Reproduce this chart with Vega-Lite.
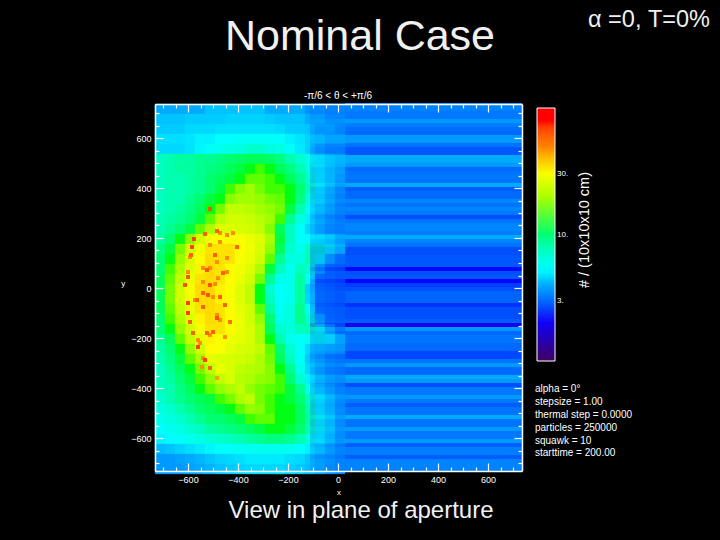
{"$schema":"https://vega.github.io/schema/vega-lite/v6.json","width":367,"height":367,"autosize":"none","padding":{"left":155,"top":104,"right":198,"bottom":69},"background":"black",
"config":{"view":{"stroke":null},"axis":{"grid":false}},
"datasets":{
"stripes":[{"y":732,"v":3.5},{"y":716,"v":3.5},{"y":700,"v":3.3},{"y":684,"v":3.3},{"y":668,"v":3.8},{"y":652,"v":3.4},{"y":636,"v":3.1},{"y":620,"v":3},{"y":604,"v":3.8},{"y":588,"v":3.8},{"y":572,"v":3.2},{"y":556,"v":2.7},{"y":540,"v":2.7},{"y":524,"v":4},{"y":508,"v":4},{"y":492,"v":3.8},{"y":476,"v":3},{"y":460,"v":3.2},{"y":444,"v":3.3},{"y":428,"v":3.2},{"y":412,"v":4},{"y":396,"v":2.8},{"y":380,"v":3},{"y":364,"v":3},{"y":348,"v":3.6},{"y":332,"v":3.2},{"y":316,"v":3.6},{"y":300,"v":3.3},{"y":284,"v":2.6},{"y":268,"v":3.2},{"y":252,"v":3.6},{"y":236,"v":3.6},{"y":220,"v":3.4},{"y":204,"v":4},{"y":188,"v":3.5},{"y":172,"v":3.2},{"y":156,"v":2.6},{"y":140,"v":2.6},{"y":124,"v":2.7},{"y":108,"v":2.7},{"y":92,"v":2.7},{"y":76,"v":2.1},{"y":60,"v":2.6},{"y":44,"v":2.7},{"y":28,"v":2.1},{"y":12,"v":2.4},{"y":-4,"v":2.6},{"y":-20,"v":2.9},{"y":-36,"v":2.9},{"y":-52,"v":2.9},{"y":-68,"v":2.3},{"y":-84,"v":2.6},{"y":-100,"v":2.6},{"y":-116,"v":2.6},{"y":-132,"v":2.8},{"y":-148,"v":1.9},{"y":-164,"v":3.8},{"y":-180,"v":3},{"y":-196,"v":3.2},{"y":-212,"v":3.2},{"y":-228,"v":3},{"y":-244,"v":3},{"y":-260,"v":2.5},{"y":-276,"v":2.5},{"y":-292,"v":3.2},{"y":-308,"v":3.8},{"y":-324,"v":3},{"y":-340,"v":3},{"y":-356,"v":4},{"y":-372,"v":3.8},{"y":-388,"v":2.6},{"y":-404,"v":3.3},{"y":-420,"v":3.3},{"y":-436,"v":3.8},{"y":-452,"v":3.3},{"y":-468,"v":2.8},{"y":-484,"v":3.2},{"y":-500,"v":3.2},{"y":-516,"v":4},{"y":-532,"v":3.2},{"y":-548,"v":3.2},{"y":-564,"v":3.8},{"y":-580,"v":3.3},{"y":-596,"v":3.3},{"y":-612,"v":3.8},{"y":-628,"v":2.8},{"y":-644,"v":3.4},{"y":-660,"v":3.4},{"y":-676,"v":2.8},{"y":-692,"v":3.5},{"y":-708,"v":3.5},{"y":-724,"v":3.5}],
"hot":[{"x":-472,"y":220,"v":48},{"x":-444,"y":212,"v":48},{"x":-420,"y":220,"v":48},{"x":-512,"y":172,"v":48},{"x":-472,"y":184,"v":48},{"x":-592,"y":124,"v":48},{"x":-484,"y":104,"v":48},{"x":-444,"y":120,"v":48},{"x":-540,"y":80,"v":48},{"x":-512,"y":80,"v":48},{"x":-444,"y":64,"v":48},{"x":-600,"y":64,"v":48},{"x":-480,"y":40,"v":48},{"x":-540,"y":24,"v":48},{"x":-492,"y":16,"v":48},{"x":-500,"y":-36,"v":48},{"x":-572,"y":-48,"v":48},{"x":-484,"y":-108,"v":48},{"x":-472,"y":-128,"v":48},{"x":-560,"y":-208,"v":48},{"x":-552,"y":-220,"v":48},{"x":-540,"y":-280,"v":48},{"x":-512,"y":-188,"v":48},{"x":-452,"y":-196,"v":48},{"x":-544,"y":-316,"v":48},{"x":-512,"y":316,"v":65},{"x":-576,"y":196,"v":70},{"x":-584,"y":164,"v":70},{"x":-404,"y":164,"v":60},{"x":-532,"y":216,"v":60},{"x":-484,"y":228,"v":60},{"x":-588,"y":132,"v":60},{"x":-492,"y":132,"v":60},{"x":-524,"y":72,"v":65},{"x":-600,"y":44,"v":65},{"x":-460,"y":60,"v":60},{"x":-612,"y":12,"v":65},{"x":-512,"y":12,"v":65},{"x":-540,"y":-20,"v":60},{"x":-600,"y":-60,"v":70},{"x":-600,"y":-100,"v":70},{"x":-520,"y":-28,"v":65},{"x":-472,"y":-36,"v":60},{"x":-564,"y":-48,"v":60},{"x":-484,"y":-120,"v":65},{"x":-524,"y":-180,"v":60},{"x":-580,"y":-180,"v":60},{"x":-560,"y":-236,"v":70},{"x":-532,"y":-288,"v":70},{"x":-512,"y":-320,"v":60},{"x":-484,"y":-360,"v":45},{"x":-452,"y":-68,"v":60},{"x":-540,"y":-76,"v":60},{"x":-592,"y":-136,"v":60},{"x":-432,"y":-136,"v":55},{"x":-500,"y":-176,"v":60}],
"info":[{"label":"alpha = 0°","y":-404},{"label":"stepsize = 1.00","y":-456},{"label":"thermal step = 0.0000","y":-508},{"label":"particles = 250000","y":-560},{"label":"squawk = 10","y":-612},{"label":"starttime = 200.00","y":-660}],
"grid":[
{"x":-712,"y":716,"v":4},{"x":-672,"y":716,"v":4},{"x":-632,"y":716,"v":4},{"x":-592,"y":716,"v":4},{"x":-552,"y":716,"v":4},{"x":-512,"y":716,"v":4.3},{"x":-472,"y":716,"v":4.3},{"x":-432,"y":716,"v":4.3},{"x":-392,"y":716,"v":4.3},{"x":-352,"y":716,"v":4.3},{"x":-312,"y":716,"v":4.3},{"x":-272,"y":716,"v":4},{"x":-232,"y":716,"v":4},{"x":-192,"y":716,"v":4},{"x":-152,"y":716,"v":4},{"x":-112,"y":716,"v":3.7},{"x":-72,"y":716,"v":3.7},{"x":-32,"y":716,"v":3.5},{"x":8,"y":716,"v":3.5},
{"x":-712,"y":676,"v":4.3},{"x":-672,"y":676,"v":4.3},{"x":-632,"y":676,"v":4.3},{"x":-592,"y":676,"v":4.4},{"x":-552,"y":676,"v":4.4},{"x":-512,"y":676,"v":4.4},{"x":-472,"y":676,"v":4.4},{"x":-432,"y":676,"v":4.5},{"x":-392,"y":676,"v":4.5},{"x":-352,"y":676,"v":4.5},{"x":-312,"y":676,"v":4.5},{"x":-272,"y":676,"v":4.4},{"x":-232,"y":676,"v":4.3},{"x":-192,"y":676,"v":4.3},{"x":-152,"y":676,"v":4.3},{"x":-112,"y":676,"v":4},{"x":-72,"y":676,"v":4},{"x":-32,"y":676,"v":3.7},{"x":8,"y":676,"v":3.7},
{"x":-712,"y":636,"v":4.4},{"x":-672,"y":636,"v":4.4},{"x":-632,"y":636,"v":4.4},{"x":-592,"y":636,"v":4.6},{"x":-552,"y":636,"v":4.6},{"x":-512,"y":636,"v":4.6},{"x":-472,"y":636,"v":4.7},{"x":-432,"y":636,"v":4.7},{"x":-392,"y":636,"v":4.7},{"x":-352,"y":636,"v":4.7},{"x":-312,"y":636,"v":4.7},{"x":-272,"y":636,"v":4.7},{"x":-232,"y":636,"v":4.6},{"x":-192,"y":636,"v":4.4},{"x":-152,"y":636,"v":4.4},{"x":-112,"y":636,"v":4.3},{"x":-72,"y":636,"v":4},{"x":-32,"y":636,"v":4},{"x":8,"y":636,"v":3.7},
{"x":-712,"y":596,"v":4.7},{"x":-672,"y":596,"v":4.7},{"x":-632,"y":596,"v":4.7},{"x":-592,"y":596,"v":4.8},{"x":-552,"y":596,"v":5},{"x":-512,"y":596,"v":5},{"x":-472,"y":596,"v":5.3},{"x":-432,"y":596,"v":5.4},{"x":-392,"y":596,"v":5.6},{"x":-352,"y":596,"v":5.6},{"x":-312,"y":596,"v":5.6},{"x":-272,"y":596,"v":5.6},{"x":-232,"y":596,"v":5.4},{"x":-192,"y":596,"v":5},{"x":-152,"y":596,"v":4.8},{"x":-112,"y":596,"v":4.5},{"x":-72,"y":596,"v":4.3},{"x":-32,"y":596,"v":4},{"x":8,"y":596,"v":4},
{"x":-712,"y":556,"v":4.6},{"x":-672,"y":556,"v":4.6},{"x":-632,"y":556,"v":4.6},{"x":-592,"y":556,"v":4.8},{"x":-552,"y":556,"v":5.1},{"x":-512,"y":556,"v":5.5},{"x":-472,"y":556,"v":6},{"x":-432,"y":556,"v":6.3},{"x":-392,"y":556,"v":6.5},{"x":-352,"y":556,"v":7},{"x":-312,"y":556,"v":7},{"x":-272,"y":556,"v":6.5},{"x":-232,"y":556,"v":6.3},{"x":-192,"y":556,"v":5.5},{"x":-152,"y":556,"v":4.9},{"x":-112,"y":556,"v":4.5},{"x":-72,"y":556,"v":4},{"x":-32,"y":556,"v":3.7},{"x":8,"y":556,"v":3.7},
{"x":-712,"y":516,"v":7.5},{"x":-672,"y":516,"v":8},{"x":-632,"y":516,"v":8.5},{"x":-592,"y":516,"v":8.5},{"x":-552,"y":516,"v":9},{"x":-512,"y":516,"v":9},{"x":-472,"y":516,"v":9.5},{"x":-432,"y":516,"v":10},{"x":-392,"y":516,"v":10.5},{"x":-352,"y":516,"v":11},{"x":-312,"y":516,"v":11},{"x":-272,"y":516,"v":10.5},{"x":-232,"y":516,"v":9.5},{"x":-192,"y":516,"v":8},{"x":-152,"y":516,"v":7},{"x":-112,"y":516,"v":6},{"x":-72,"y":516,"v":5},{"x":-32,"y":516,"v":4.5},{"x":8,"y":516,"v":4.2},
{"x":-712,"y":476,"v":7.5},{"x":-672,"y":476,"v":8},{"x":-632,"y":476,"v":8.5},{"x":-592,"y":476,"v":8.5},{"x":-552,"y":476,"v":9},{"x":-512,"y":476,"v":9.5},{"x":-472,"y":476,"v":10},{"x":-432,"y":476,"v":11},{"x":-392,"y":476,"v":12},{"x":-352,"y":476,"v":13},{"x":-312,"y":476,"v":14},{"x":-272,"y":476,"v":13},{"x":-232,"y":476,"v":11},{"x":-192,"y":476,"v":9.5},{"x":-152,"y":476,"v":8},{"x":-112,"y":476,"v":6.5},{"x":-72,"y":476,"v":5.3},{"x":-32,"y":476,"v":4.6},{"x":8,"y":476,"v":4.2},
{"x":-712,"y":436,"v":7.5},{"x":-672,"y":436,"v":8},{"x":-632,"y":436,"v":8},{"x":-592,"y":436,"v":8.5},{"x":-552,"y":436,"v":9},{"x":-512,"y":436,"v":10},{"x":-472,"y":436,"v":11},{"x":-432,"y":436,"v":12},{"x":-392,"y":436,"v":13},{"x":-352,"y":436,"v":15},{"x":-312,"y":436,"v":15},{"x":-272,"y":436,"v":14},{"x":-232,"y":436,"v":13},{"x":-192,"y":436,"v":11},{"x":-152,"y":436,"v":9},{"x":-112,"y":436,"v":7},{"x":-72,"y":436,"v":5.5},{"x":-32,"y":436,"v":4.6},{"x":8,"y":436,"v":4},
{"x":-712,"y":396,"v":7.5},{"x":-672,"y":396,"v":8},{"x":-632,"y":396,"v":8},{"x":-592,"y":396,"v":8.5},{"x":-552,"y":396,"v":9},{"x":-512,"y":396,"v":10},{"x":-472,"y":396,"v":12},{"x":-432,"y":396,"v":14},{"x":-392,"y":396,"v":17},{"x":-352,"y":396,"v":19},{"x":-312,"y":396,"v":16},{"x":-272,"y":396,"v":14},{"x":-232,"y":396,"v":14},{"x":-192,"y":396,"v":13},{"x":-152,"y":396,"v":10},{"x":-112,"y":396,"v":7.5},{"x":-72,"y":396,"v":5.5},{"x":-32,"y":396,"v":4.4},{"x":8,"y":396,"v":3.8},
{"x":-712,"y":356,"v":7.5},{"x":-672,"y":356,"v":8},{"x":-632,"y":356,"v":8},{"x":-592,"y":356,"v":9},{"x":-552,"y":356,"v":10},{"x":-512,"y":356,"v":12},{"x":-472,"y":356,"v":13},{"x":-432,"y":356,"v":17},{"x":-392,"y":356,"v":19},{"x":-352,"y":356,"v":19},{"x":-312,"y":356,"v":18},{"x":-272,"y":356,"v":16},{"x":-232,"y":356,"v":15},{"x":-192,"y":356,"v":13},{"x":-152,"y":356,"v":9.5},{"x":-112,"y":356,"v":6.5},{"x":-72,"y":356,"v":5},{"x":-32,"y":356,"v":4.2},{"x":8,"y":356,"v":3.7},
{"x":-712,"y":316,"v":7.5},{"x":-672,"y":316,"v":8},{"x":-632,"y":316,"v":8.5},{"x":-592,"y":316,"v":9.5},{"x":-552,"y":316,"v":11},{"x":-512,"y":316,"v":13},{"x":-472,"y":316,"v":16},{"x":-432,"y":316,"v":22},{"x":-392,"y":316,"v":22},{"x":-352,"y":316,"v":21},{"x":-312,"y":316,"v":19},{"x":-272,"y":316,"v":18},{"x":-232,"y":316,"v":16},{"x":-192,"y":316,"v":12},{"x":-152,"y":316,"v":8},{"x":-112,"y":316,"v":5.6},{"x":-72,"y":316,"v":4.6},{"x":-32,"y":316,"v":4},{"x":8,"y":316,"v":3.5},
{"x":-712,"y":276,"v":8},{"x":-672,"y":276,"v":8.5},{"x":-632,"y":276,"v":9},{"x":-592,"y":276,"v":10},{"x":-552,"y":276,"v":12},{"x":-512,"y":276,"v":15},{"x":-472,"y":276,"v":21},{"x":-432,"y":276,"v":24},{"x":-392,"y":276,"v":24},{"x":-352,"y":276,"v":23},{"x":-312,"y":276,"v":21},{"x":-272,"y":276,"v":19},{"x":-232,"y":276,"v":14},{"x":-192,"y":276,"v":9},{"x":-152,"y":276,"v":6.5},{"x":-112,"y":276,"v":5},{"x":-72,"y":276,"v":4.3},{"x":-32,"y":276,"v":3.8},{"x":8,"y":276,"v":3.5},
{"x":-712,"y":236,"v":8},{"x":-672,"y":236,"v":9},{"x":-632,"y":236,"v":10},{"x":-592,"y":236,"v":12},{"x":-552,"y":236,"v":15},{"x":-512,"y":236,"v":20},{"x":-472,"y":236,"v":26},{"x":-432,"y":236,"v":26},{"x":-392,"y":236,"v":25},{"x":-352,"y":236,"v":24},{"x":-312,"y":236,"v":22},{"x":-272,"y":236,"v":17},{"x":-232,"y":236,"v":11},{"x":-192,"y":236,"v":7.5},{"x":-152,"y":236,"v":5.5},{"x":-112,"y":236,"v":4.6},{"x":-72,"y":236,"v":4},{"x":-32,"y":236,"v":3.6},{"x":8,"y":236,"v":3.3},
{"x":-712,"y":196,"v":8.5},{"x":-672,"y":196,"v":10},{"x":-632,"y":196,"v":13},{"x":-592,"y":196,"v":17},{"x":-552,"y":196,"v":24},{"x":-512,"y":196,"v":29},{"x":-472,"y":196,"v":32},{"x":-432,"y":196,"v":32},{"x":-392,"y":196,"v":30},{"x":-352,"y":196,"v":28},{"x":-312,"y":196,"v":26},{"x":-272,"y":196,"v":20},{"x":-232,"y":196,"v":12},{"x":-192,"y":196,"v":7.5},{"x":-152,"y":196,"v":5.6},{"x":-112,"y":196,"v":5.2},{"x":-72,"y":196,"v":5},{"x":-32,"y":196,"v":4.6},{"x":8,"y":196,"v":4},
{"x":-712,"y":156,"v":9.5},{"x":-672,"y":156,"v":12},{"x":-632,"y":156,"v":16},{"x":-592,"y":156,"v":24},{"x":-552,"y":156,"v":29},{"x":-512,"y":156,"v":35},{"x":-472,"y":156,"v":35},{"x":-432,"y":156,"v":35},{"x":-392,"y":156,"v":32},{"x":-352,"y":156,"v":29},{"x":-312,"y":156,"v":25},{"x":-272,"y":156,"v":18},{"x":-232,"y":156,"v":11},{"x":-192,"y":156,"v":7},{"x":-152,"y":156,"v":6},{"x":-112,"y":156,"v":7.5},{"x":-72,"y":156,"v":7.5},{"x":-32,"y":156,"v":6},{"x":8,"y":156,"v":4.5},
{"x":-712,"y":116,"v":10},{"x":-672,"y":116,"v":13},{"x":-632,"y":116,"v":18},{"x":-592,"y":116,"v":25},{"x":-552,"y":116,"v":32},{"x":-512,"y":116,"v":36},{"x":-472,"y":116,"v":35},{"x":-432,"y":116,"v":35},{"x":-392,"y":116,"v":30},{"x":-352,"y":116,"v":28},{"x":-312,"y":116,"v":24},{"x":-272,"y":116,"v":15},{"x":-232,"y":116,"v":9},{"x":-192,"y":116,"v":6.5},{"x":-152,"y":116,"v":6.5},{"x":-112,"y":116,"v":8},{"x":-72,"y":116,"v":6},{"x":-32,"y":116,"v":4},{"x":8,"y":116,"v":3.2},
{"x":-712,"y":76,"v":10},{"x":-672,"y":76,"v":14},{"x":-632,"y":76,"v":20},{"x":-592,"y":76,"v":26},{"x":-552,"y":76,"v":33},{"x":-512,"y":76,"v":36},{"x":-472,"y":76,"v":35},{"x":-432,"y":76,"v":32},{"x":-392,"y":76,"v":29},{"x":-352,"y":76,"v":26},{"x":-312,"y":76,"v":20},{"x":-272,"y":76,"v":12},{"x":-232,"y":76,"v":7.5},{"x":-192,"y":76,"v":6},{"x":-152,"y":76,"v":7.5},{"x":-112,"y":76,"v":7},{"x":-72,"y":76,"v":4},{"x":-32,"y":76,"v":3},{"x":8,"y":76,"v":2.8},
{"x":-712,"y":36,"v":11},{"x":-672,"y":36,"v":15},{"x":-632,"y":36,"v":22},{"x":-592,"y":36,"v":28},{"x":-552,"y":36,"v":35},{"x":-512,"y":36,"v":36},{"x":-472,"y":36,"v":35},{"x":-432,"y":36,"v":32},{"x":-392,"y":36,"v":28},{"x":-352,"y":36,"v":24},{"x":-312,"y":36,"v":16},{"x":-272,"y":36,"v":9},{"x":-232,"y":36,"v":6},{"x":-192,"y":36,"v":6},{"x":-152,"y":36,"v":8.5},{"x":-112,"y":36,"v":5.5},{"x":-72,"y":36,"v":3.2},{"x":-32,"y":36,"v":2.9},{"x":8,"y":36,"v":2.7},
{"x":-712,"y":-4,"v":11},{"x":-672,"y":-4,"v":16},{"x":-632,"y":-4,"v":24},{"x":-592,"y":-4,"v":30},{"x":-552,"y":-4,"v":36},{"x":-512,"y":-4,"v":37},{"x":-472,"y":-4,"v":33},{"x":-432,"y":-4,"v":30},{"x":-392,"y":-4,"v":26},{"x":-352,"y":-4,"v":22},{"x":-312,"y":-4,"v":13},{"x":-272,"y":-4,"v":7},{"x":-232,"y":-4,"v":5.3},{"x":-192,"y":-4,"v":6},{"x":-152,"y":-4,"v":8.5},{"x":-112,"y":-4,"v":4.5},{"x":-72,"y":-4,"v":3},{"x":-32,"y":-4,"v":2.8},{"x":8,"y":-4,"v":2.6},
{"x":-712,"y":-44,"v":11},{"x":-672,"y":-44,"v":16},{"x":-632,"y":-44,"v":24},{"x":-592,"y":-44,"v":29},{"x":-552,"y":-44,"v":36},{"x":-512,"y":-44,"v":36},{"x":-472,"y":-44,"v":33},{"x":-432,"y":-44,"v":30},{"x":-392,"y":-44,"v":26},{"x":-352,"y":-44,"v":22},{"x":-312,"y":-44,"v":13},{"x":-272,"y":-44,"v":7.5},{"x":-232,"y":-44,"v":5.3},{"x":-192,"y":-44,"v":6},{"x":-152,"y":-44,"v":8.5},{"x":-112,"y":-44,"v":4.6},{"x":-72,"y":-44,"v":3},{"x":-32,"y":-44,"v":2.8},{"x":8,"y":-44,"v":2.6},
{"x":-712,"y":-84,"v":11},{"x":-672,"y":-84,"v":15},{"x":-632,"y":-84,"v":22},{"x":-592,"y":-84,"v":28},{"x":-552,"y":-84,"v":35},{"x":-512,"y":-84,"v":36},{"x":-472,"y":-84,"v":35},{"x":-432,"y":-84,"v":32},{"x":-392,"y":-84,"v":27},{"x":-352,"y":-84,"v":24},{"x":-312,"y":-84,"v":15},{"x":-272,"y":-84,"v":8.5},{"x":-232,"y":-84,"v":5.6},{"x":-192,"y":-84,"v":6.5},{"x":-152,"y":-84,"v":9},{"x":-112,"y":-84,"v":5.6},{"x":-72,"y":-84,"v":3.2},{"x":-32,"y":-84,"v":2.9},{"x":8,"y":-84,"v":2.8},
{"x":-712,"y":-124,"v":10},{"x":-672,"y":-124,"v":14},{"x":-632,"y":-124,"v":20},{"x":-592,"y":-124,"v":26},{"x":-552,"y":-124,"v":33},{"x":-512,"y":-124,"v":36},{"x":-472,"y":-124,"v":35},{"x":-432,"y":-124,"v":32},{"x":-392,"y":-124,"v":28},{"x":-352,"y":-124,"v":24},{"x":-312,"y":-124,"v":18},{"x":-272,"y":-124,"v":10},{"x":-232,"y":-124,"v":6},{"x":-192,"y":-124,"v":6.5},{"x":-152,"y":-124,"v":9},{"x":-112,"y":-124,"v":7},{"x":-72,"y":-124,"v":4},{"x":-32,"y":-124,"v":3},{"x":8,"y":-124,"v":2.8},
{"x":-712,"y":-164,"v":10},{"x":-672,"y":-164,"v":13},{"x":-632,"y":-164,"v":18},{"x":-592,"y":-164,"v":24},{"x":-552,"y":-164,"v":30},{"x":-512,"y":-164,"v":35},{"x":-472,"y":-164,"v":35},{"x":-432,"y":-164,"v":32},{"x":-392,"y":-164,"v":28},{"x":-352,"y":-164,"v":25},{"x":-312,"y":-164,"v":20},{"x":-272,"y":-164,"v":11},{"x":-232,"y":-164,"v":7},{"x":-192,"y":-164,"v":6.5},{"x":-152,"y":-164,"v":7.5},{"x":-112,"y":-164,"v":8},{"x":-72,"y":-164,"v":6},{"x":-32,"y":-164,"v":4},{"x":8,"y":-164,"v":3},
{"x":-712,"y":-204,"v":9},{"x":-672,"y":-204,"v":11},{"x":-632,"y":-204,"v":15},{"x":-592,"y":-204,"v":22},{"x":-552,"y":-204,"v":27},{"x":-512,"y":-204,"v":33},{"x":-472,"y":-204,"v":32},{"x":-432,"y":-204,"v":29},{"x":-392,"y":-204,"v":27},{"x":-352,"y":-204,"v":25},{"x":-312,"y":-204,"v":20},{"x":-272,"y":-204,"v":13},{"x":-232,"y":-204,"v":8},{"x":-192,"y":-204,"v":6},{"x":-152,"y":-204,"v":5.5},{"x":-112,"y":-204,"v":6},{"x":-72,"y":-204,"v":6.5},{"x":-32,"y":-204,"v":5.5},{"x":8,"y":-204,"v":4.2},
{"x":-712,"y":-244,"v":8.5},{"x":-672,"y":-244,"v":10},{"x":-632,"y":-244,"v":13},{"x":-592,"y":-244,"v":18},{"x":-552,"y":-244,"v":24},{"x":-512,"y":-244,"v":32},{"x":-472,"y":-244,"v":30},{"x":-432,"y":-244,"v":27},{"x":-392,"y":-244,"v":25},{"x":-352,"y":-244,"v":24},{"x":-312,"y":-244,"v":22},{"x":-272,"y":-244,"v":15},{"x":-232,"y":-244,"v":10},{"x":-192,"y":-244,"v":7},{"x":-152,"y":-244,"v":5.5},{"x":-112,"y":-244,"v":4.6},{"x":-72,"y":-244,"v":4.4},{"x":-32,"y":-244,"v":4.2},{"x":8,"y":-244,"v":4},
{"x":-712,"y":-284,"v":8},{"x":-672,"y":-284,"v":9.5},{"x":-632,"y":-284,"v":12},{"x":-592,"y":-284,"v":15},{"x":-552,"y":-284,"v":20},{"x":-512,"y":-284,"v":27},{"x":-472,"y":-284,"v":26},{"x":-432,"y":-284,"v":25},{"x":-392,"y":-284,"v":24},{"x":-352,"y":-284,"v":23},{"x":-312,"y":-284,"v":20},{"x":-272,"y":-284,"v":16},{"x":-232,"y":-284,"v":11},{"x":-192,"y":-284,"v":7.5},{"x":-152,"y":-284,"v":5.6},{"x":-112,"y":-284,"v":4.4},{"x":-72,"y":-284,"v":4},{"x":-32,"y":-284,"v":3.6},{"x":8,"y":-284,"v":3.3},
{"x":-712,"y":-324,"v":7.5},{"x":-672,"y":-324,"v":9},{"x":-632,"y":-324,"v":11},{"x":-592,"y":-324,"v":13},{"x":-552,"y":-324,"v":16},{"x":-512,"y":-324,"v":22},{"x":-472,"y":-324,"v":28},{"x":-432,"y":-324,"v":25},{"x":-392,"y":-324,"v":22},{"x":-352,"y":-324,"v":21},{"x":-312,"y":-324,"v":20},{"x":-272,"y":-324,"v":17},{"x":-232,"y":-324,"v":13},{"x":-192,"y":-324,"v":9},{"x":-152,"y":-324,"v":6},{"x":-112,"y":-324,"v":4.6},{"x":-72,"y":-324,"v":4},{"x":-32,"y":-324,"v":3.6},{"x":8,"y":-324,"v":3.3},
{"x":-712,"y":-364,"v":7.5},{"x":-672,"y":-364,"v":8.5},{"x":-632,"y":-364,"v":10},{"x":-592,"y":-364,"v":12},{"x":-552,"y":-364,"v":14},{"x":-512,"y":-364,"v":18},{"x":-472,"y":-364,"v":22},{"x":-432,"y":-364,"v":25},{"x":-392,"y":-364,"v":21},{"x":-352,"y":-364,"v":20},{"x":-312,"y":-364,"v":18},{"x":-272,"y":-364,"v":17},{"x":-232,"y":-364,"v":14},{"x":-192,"y":-364,"v":10},{"x":-152,"y":-364,"v":7},{"x":-112,"y":-364,"v":5},{"x":-72,"y":-364,"v":4.2},{"x":-32,"y":-364,"v":3.8},{"x":8,"y":-364,"v":3.5},
{"x":-712,"y":-404,"v":7.5},{"x":-672,"y":-404,"v":8},{"x":-632,"y":-404,"v":9.5},{"x":-592,"y":-404,"v":11},{"x":-552,"y":-404,"v":13},{"x":-512,"y":-404,"v":15},{"x":-472,"y":-404,"v":18},{"x":-432,"y":-404,"v":20},{"x":-392,"y":-404,"v":22},{"x":-352,"y":-404,"v":18},{"x":-312,"y":-404,"v":16},{"x":-272,"y":-404,"v":15},{"x":-232,"y":-404,"v":14},{"x":-192,"y":-404,"v":12},{"x":-152,"y":-404,"v":9},{"x":-112,"y":-404,"v":6},{"x":-72,"y":-404,"v":4.6},{"x":-32,"y":-404,"v":4},{"x":8,"y":-404,"v":3.6},
{"x":-712,"y":-444,"v":7},{"x":-672,"y":-444,"v":8},{"x":-632,"y":-444,"v":9},{"x":-592,"y":-444,"v":10},{"x":-552,"y":-444,"v":11},{"x":-512,"y":-444,"v":12},{"x":-472,"y":-444,"v":14},{"x":-432,"y":-444,"v":16},{"x":-392,"y":-444,"v":20},{"x":-352,"y":-444,"v":22},{"x":-312,"y":-444,"v":16},{"x":-272,"y":-444,"v":14},{"x":-232,"y":-444,"v":13},{"x":-192,"y":-444,"v":12},{"x":-152,"y":-444,"v":10},{"x":-112,"y":-444,"v":7.5},{"x":-72,"y":-444,"v":5.3},{"x":-32,"y":-444,"v":4.4},{"x":8,"y":-444,"v":3.8},
{"x":-712,"y":-484,"v":6.5},{"x":-672,"y":-484,"v":7},{"x":-632,"y":-484,"v":8},{"x":-592,"y":-484,"v":9},{"x":-552,"y":-484,"v":10},{"x":-512,"y":-484,"v":11},{"x":-472,"y":-484,"v":12},{"x":-432,"y":-484,"v":13},{"x":-392,"y":-484,"v":15},{"x":-352,"y":-484,"v":18},{"x":-312,"y":-484,"v":17},{"x":-272,"y":-484,"v":14},{"x":-232,"y":-484,"v":13},{"x":-192,"y":-484,"v":13},{"x":-152,"y":-484,"v":11},{"x":-112,"y":-484,"v":8},{"x":-72,"y":-484,"v":5.6},{"x":-32,"y":-484,"v":4.5},{"x":8,"y":-484,"v":3.8},
{"x":-712,"y":-524,"v":6},{"x":-672,"y":-524,"v":6.5},{"x":-632,"y":-524,"v":7},{"x":-592,"y":-524,"v":8},{"x":-552,"y":-524,"v":9},{"x":-512,"y":-524,"v":10},{"x":-472,"y":-524,"v":10},{"x":-432,"y":-524,"v":11},{"x":-392,"y":-524,"v":12},{"x":-352,"y":-524,"v":14},{"x":-312,"y":-524,"v":15},{"x":-272,"y":-524,"v":15},{"x":-232,"y":-524,"v":13},{"x":-192,"y":-524,"v":13},{"x":-152,"y":-524,"v":11},{"x":-112,"y":-524,"v":8.5},{"x":-72,"y":-524,"v":6},{"x":-32,"y":-524,"v":4.6},{"x":8,"y":-524,"v":3.8},
{"x":-712,"y":-564,"v":5.4},{"x":-672,"y":-564,"v":5.8},{"x":-632,"y":-564,"v":6.3},{"x":-592,"y":-564,"v":7},{"x":-552,"y":-564,"v":7.5},{"x":-512,"y":-564,"v":8.5},{"x":-472,"y":-564,"v":9},{"x":-432,"y":-564,"v":9.5},{"x":-392,"y":-564,"v":10},{"x":-352,"y":-564,"v":11},{"x":-312,"y":-564,"v":12},{"x":-272,"y":-564,"v":13},{"x":-232,"y":-564,"v":13},{"x":-192,"y":-564,"v":12},{"x":-152,"y":-564,"v":10},{"x":-112,"y":-564,"v":8},{"x":-72,"y":-564,"v":6},{"x":-32,"y":-564,"v":4.6},{"x":8,"y":-564,"v":3.8},
{"x":-712,"y":-604,"v":5},{"x":-672,"y":-604,"v":5.2},{"x":-632,"y":-604,"v":5.6},{"x":-592,"y":-604,"v":6},{"x":-552,"y":-604,"v":6.3},{"x":-512,"y":-604,"v":6.8},{"x":-472,"y":-604,"v":7.2},{"x":-432,"y":-604,"v":7.5},{"x":-392,"y":-604,"v":8},{"x":-352,"y":-604,"v":8.5},{"x":-312,"y":-604,"v":9},{"x":-272,"y":-604,"v":9.5},{"x":-232,"y":-604,"v":9.5},{"x":-192,"y":-604,"v":9},{"x":-152,"y":-604,"v":8},{"x":-112,"y":-604,"v":6.5},{"x":-72,"y":-604,"v":5.3},{"x":-32,"y":-604,"v":4.4},{"x":8,"y":-604,"v":3.8},
{"x":-712,"y":-644,"v":4.2},{"x":-672,"y":-644,"v":4.3},{"x":-632,"y":-644,"v":4.5},{"x":-592,"y":-644,"v":4.7},{"x":-552,"y":-644,"v":4.9},{"x":-512,"y":-644,"v":5.1},{"x":-472,"y":-644,"v":5.3},{"x":-432,"y":-644,"v":5.5},{"x":-392,"y":-644,"v":5.6},{"x":-352,"y":-644,"v":5.8},{"x":-312,"y":-644,"v":6},{"x":-272,"y":-644,"v":6},{"x":-232,"y":-644,"v":6},{"x":-192,"y":-644,"v":5.8},{"x":-152,"y":-644,"v":5.4},{"x":-112,"y":-644,"v":5},{"x":-72,"y":-644,"v":4.6},{"x":-32,"y":-644,"v":4},{"x":8,"y":-644,"v":3.6},
{"x":-712,"y":-684,"v":3.8},{"x":-672,"y":-684,"v":3.8},{"x":-632,"y":-684,"v":3.9},{"x":-592,"y":-684,"v":4},{"x":-552,"y":-684,"v":4.1},{"x":-512,"y":-684,"v":4.3},{"x":-472,"y":-684,"v":4.5},{"x":-432,"y":-684,"v":4.6},{"x":-392,"y":-684,"v":4.7},{"x":-352,"y":-684,"v":4.9},{"x":-312,"y":-684,"v":4.9},{"x":-272,"y":-684,"v":4.9},{"x":-232,"y":-684,"v":4.9},{"x":-192,"y":-684,"v":4.7},{"x":-152,"y":-684,"v":4.6},{"x":-112,"y":-684,"v":4.3},{"x":-72,"y":-684,"v":4},{"x":-32,"y":-684,"v":3.8},{"x":8,"y":-684,"v":3.5},
{"x":-712,"y":-724,"v":3.8},{"x":-672,"y":-724,"v":3.8},{"x":-632,"y":-724,"v":3.8},{"x":-592,"y":-724,"v":3.9},{"x":-552,"y":-724,"v":4},{"x":-512,"y":-724,"v":4.1},{"x":-472,"y":-724,"v":4.3},{"x":-432,"y":-724,"v":4.4},{"x":-392,"y":-724,"v":4.5},{"x":-352,"y":-724,"v":4.6},{"x":-312,"y":-724,"v":4.6},{"x":-272,"y":-724,"v":4.6},{"x":-232,"y":-724,"v":4.6},{"x":-192,"y":-724,"v":4.5},{"x":-152,"y":-724,"v":4.4},{"x":-112,"y":-724,"v":4.2},{"x":-72,"y":-724,"v":4},{"x":-32,"y":-724,"v":3.7},{"x":8,"y":-724,"v":3.5}
]},
"layer":[
{"data":{"name":"stripes"},"mark":{"type":"rect","height":4.2},"encoding":{
"x":{"datum":28,"type":"quantitative","scale":{"domain":[-732,736],"nice":false,"zero":false},"axis":{"orient":"bottom","zindex":1,"title":"x","titleColor":"white","titleFontSize":8,"titleFontWeight":"normal","titlePadding":0,"values":[-700,-650,-600,-550,-500,-450,-400,-350,-300,-250,-200,-150,-100,-50,0,50,100,150,200,250,300,350,400,450,500,550,600,650,700],"labelExpr":"datum.value % 200 === 0 ? replace(datum.label, ',', '') : ''","labelColor":"white","labelFontSize":9,"labelOverlap":false,"labelPadding":12,"tickColor":"white","tickWidth":1.2,"tickSize":{"condition":{"test":"datum.value % 200 === 0","value":-8},"value":-4},"domainColor":"white","domainWidth":1.5}},
"x2":{"datum":736},
"y":{"field":"y","type":"quantitative","scale":{"domain":[-732,736],"nice":false,"zero":false},"axis":{"orient":"left","zindex":1,"title":"y","titleColor":"white","titleFontSize":8,"titleFontWeight":"normal","titleAngle":0,"titlePadding":8,"values":[-700,-650,-600,-550,-500,-450,-400,-350,-300,-250,-200,-150,-100,-50,0,50,100,150,200,250,300,350,400,450,500,550,600,650,700],"labelExpr":"datum.value % 200 === 0 ? replace(datum.label, ',', '') : ''","labelColor":"white","labelFontSize":9,"labelOverlap":false,"labelPadding":12,"tickColor":"white","tickWidth":1.2,"tickSize":{"condition":{"test":"datum.value % 200 === 0","value":-8},"value":-4},"domainColor":"white","domainWidth":1.5}},
"color":{"field":"v","type":"quantitative","scale":{"type":"log","domain":[1,1.38,2.09,3.63,5.25,10,13.2,31.6,50,79.4,100],"range":["#400060","#3000b0","#0000ff","#0088ff","#00ffff","#00ff70","#00ff00","#ffff00","#ff8000","#ff0000","#ff0000"]},
"legend":{"title":null,"orient":"none","legendX":382,"legendY":4,"direction":"vertical","type":"gradient","gradientLength":253,"gradientThickness":18,"gradientStrokeColor":"white","gradientStrokeWidth":1,"values":[3,10,30],"labelExpr":"datum.value + '.'","labelColor":"white","labelFontSize":8,"labelOffset":2,"tickCount":3}}}},
{"data":{"name":"grid"},"mark":{"type":"rect","width":10.3,"height":10.3},"encoding":{
"x":{"field":"x","type":"quantitative","axis":{"orient":"top","zindex":1,"title":null,"labels":false,"values":[-700,-650,-600,-550,-500,-450,-400,-350,-300,-250,-200,-150,-100,-50,0,50,100,150,200,250,300,350,400,450,500,550,600,650,700],"tickColor":"white","tickWidth":1.2,"tickSize":{"condition":{"test":"datum.value % 200 === 0","value":-8},"value":-4},"domainColor":"white","domainWidth":1.5}},
"y":{"field":"y","type":"quantitative","axis":{"orient":"right","zindex":1,"title":null,"labels":false,"values":[-700,-650,-600,-550,-500,-450,-400,-350,-300,-250,-200,-150,-100,-50,0,50,100,150,200,250,300,350,400,450,500,550,600,650,700],"tickColor":"white","tickWidth":1.2,"tickSize":{"condition":{"test":"datum.value % 200 === 0","value":-8},"value":-4},"domainColor":"white","domainWidth":1.5}},
"color":{"field":"v","type":"quantitative"}}},
{"data":{"name":"stripes"},"mark":{"type":"rect","height":4.2,"fillOpacity":0.35},"encoding":{
"x":{"datum":-112,"type":"quantitative","axis":null},"x2":{"datum":28},"y":{"field":"y","type":"quantitative","axis":null},"color":{"field":"v","type":"quantitative"}}},
{"data":{"name":"hot"},"mark":{"type":"rect","width":4,"height":4},"encoding":{
"x":{"field":"x","type":"quantitative","axis":null},"y":{"field":"y","type":"quantitative","axis":null},"color":{"field":"v","type":"quantitative"}}},
{"data":{"name":"info"},"mark":{"type":"text","align":"left","font":"Liberation Sans","fontSize":10,"color":"white"},"encoding":{
"x":{"datum":788,"type":"quantitative","axis":null},"y":{"field":"y","type":"quantitative","axis":null},"text":{"field":"label"}}},
{"data":{"values":[{}]},"mark":{"type":"text","font":"Liberation Sans","fontSize":43,"color":"#f0f0f0"},"encoding":{"x":{"datum":88,"type":"quantitative","axis":null},"y":{"datum":1004,"type":"quantitative","axis":null},"text":{"value":"Nominal Case"}}},
{"data":{"values":[{}]},"mark":{"type":"text","font":"Liberation Sans","fontSize":24,"color":"#f0f0f0"},"encoding":{"x":{"datum":92,"type":"quantitative","axis":null},"y":{"datum":-892,"type":"quantitative","axis":null},"text":{"value":"View in plane of aperture"}}},
{"data":{"values":[{}]},"mark":{"type":"text","font":"Liberation Sans","fontSize":23.5,"color":"#f0f0f0"},"encoding":{"x":{"datum":1244,"type":"quantitative","axis":null},"y":{"datum":1072,"type":"quantitative","axis":null},"text":{"value":"α =0, T=0%"}}},
{"data":{"values":[{}]},"mark":{"type":"text","font":"Liberation Sans","fontSize":10,"color":"white"},"encoding":{"x":{"datum":0,"type":"quantitative","axis":null},"y":{"datum":768,"type":"quantitative","axis":null},"text":{"value":"-π/6 < θ < +π/6"}}},
{"data":{"values":[{}]},"mark":{"type":"text","font":"Liberation Sans","fontSize":14.5,"color":"white","angle":270},"encoding":{"x":{"datum":988,"type":"quantitative","axis":null},"y":{"datum":232,"type":"quantitative","axis":null},"text":{"value":"# / (10x10x10 cm)"}}}
],
"resolve":{"axis":{"x":"independent","y":"independent"}}}
